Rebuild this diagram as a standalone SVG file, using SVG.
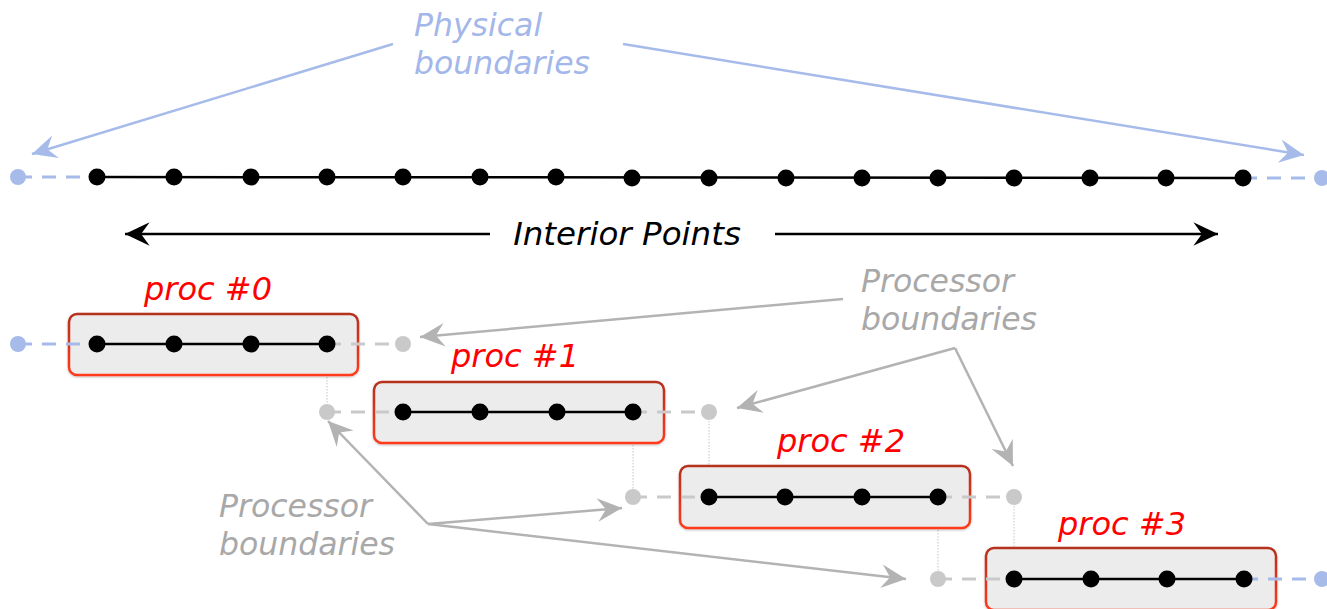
<svg xmlns="http://www.w3.org/2000/svg" width="1327" height="609" viewBox="0 0 1327 609">
  <style>
    text { font-family: "DejaVu Sans", Verdana, sans-serif; font-style: italic; font-size: 31.5px; }
    .phys { fill: #a3b7ea; }
    .interior { fill: #000; font-size: 32.5px; }
    .procb { fill: #a8a8a8; }
    .plabel { fill: #ff0000; font-size: 32px; }
    .box { fill: #ececec; stroke: url(#boxStroke); stroke-width: 2.5; }
    .solid { stroke: #000; stroke-width: 2.5; fill: none; }
    .dashBlue { stroke: #a6bbea; stroke-width: 3; stroke-dasharray: 14 10; fill: none; }
    .dashGray { stroke: #c9c9c9; stroke-width: 3; stroke-dasharray: 14 10; fill: none; }
    .vdot { stroke: #c4c4c4; stroke-width: 1; stroke-dasharray: 1.5 1.5; fill: none; }
    .pt { fill: #000; }
    .ptBlue { fill: #a6bbea; }
    .ptGray { fill: #c9c9c9; }
    .arrBlue { stroke: #a6bbea; stroke-width: 2.5; fill: none; marker-end: url(#headBlue); }
    .arrGray { stroke: #b3b3b3; stroke-width: 2.5; fill: none; }
    .arrBlack { stroke: #000; stroke-width: 2.5; fill: none; marker-end: url(#headBlack); }
  </style>
  <defs>
    <linearGradient id="boxStroke" x1="0" y1="0" x2="0" y2="1">
      <stop offset="0" stop-color="#b5301f"/>
      <stop offset="1" stop-color="#ff3a1c"/>
    </linearGradient>
    <marker id="headBlue" markerUnits="userSpaceOnUse" markerWidth="30" markerHeight="30" viewBox="-24 -12 28 24" refX="0" refY="0" orient="auto">
      <path d="M0,0 L-23,-11 L-15,0 L-23,11 Z" fill="#a6bbea"/>
    </marker>
    <marker id="headGray" markerUnits="userSpaceOnUse" markerWidth="30" markerHeight="30" viewBox="-24 -12 28 24" refX="0" refY="0" orient="auto">
      <path d="M0,0 L-23,-11 L-15,0 L-23,11 Z" fill="#b3b3b3"/>
    </marker>
    <marker id="headBlack" markerUnits="userSpaceOnUse" markerWidth="30" markerHeight="30" viewBox="-24 -12 28 24" refX="0" refY="0" orient="auto">
      <path d="M0,0 L-23,-11 L-15,0 L-23,11 Z" fill="#000"/>
    </marker>
    <filter id="soft" x="-5%" y="-10%" width="110%" height="130%">
      <feDropShadow dx="0" dy="1" stdDeviation="1" flood-color="#000" flood-opacity="0.25"/>
    </filter>
  </defs>

  <!-- global grid with physical boundary points -->
  <g id="global-grid">
    <line class="dashBlue" x1="18" y1="177" x2="97" y2="177"/>
    <line class="dashBlue" x1="1243" y1="178" x2="1322" y2="178"/>
    <line class="solid" x1="97" y1="177" x2="1243" y2="178"/>
    <circle class="ptBlue" cx="18" cy="177" r="8"/>
    <circle class="ptBlue" cx="1322" cy="178" r="8"/>
    <circle class="pt" cx="97" cy="177" r="8.5"/>
    <circle class="pt" cx="174" cy="177" r="8.5"/>
    <circle class="pt" cx="251" cy="177" r="8.5"/>
    <circle class="pt" cx="327" cy="177" r="8.5"/>
    <circle class="pt" cx="403" cy="177" r="8.5"/>
    <circle class="pt" cx="480" cy="177" r="8.5"/>
    <circle class="pt" cx="556" cy="177" r="8.5"/>
    <circle class="pt" cx="632" cy="178" r="8.5"/>
    <circle class="pt" cx="709" cy="178" r="8.5"/>
    <circle class="pt" cx="786" cy="178" r="8.5"/>
    <circle class="pt" cx="862" cy="178" r="8.5"/>
    <circle class="pt" cx="938" cy="178" r="8.5"/>
    <circle class="pt" cx="1014" cy="178" r="8.5"/>
    <circle class="pt" cx="1090" cy="178" r="8.5"/>
    <circle class="pt" cx="1166" cy="178" r="8.5"/>
    <circle class="pt" cx="1243" cy="178" r="8.5"/>
  </g>

  <g id="label-physical">
    <text class="phys" x="414" y="36">Physical</text>
    <text class="phys" x="414" y="74">boundaries</text>
  </g>

  <g id="label-interior">
    <text class="interior" x="627" y="245" text-anchor="middle">Interior Points</text>
  </g>

  <!-- ghost-point links between neighbouring partitions -->
  <g id="halo-links">
    <line class="vdot" x1="327" y1="344" x2="327" y2="412"/>
    <line class="vdot" x1="633" y1="412" x2="633" y2="497"/>
    <line class="vdot" x1="709" y1="412" x2="709" y2="497"/>
    <line class="vdot" x1="938" y1="497" x2="938" y2="579"/>
    <line class="vdot" x1="1014" y1="497" x2="1014" y2="579"/>
  </g>

  <g id="proc0">
    <rect class="box" filter="url(#soft)" x="69" y="314" width="289" height="61" rx="8"/>
    <text class="plabel" x="208" y="300" text-anchor="middle">proc #0</text>
    <line class="dashBlue" x1="18" y1="344" x2="97" y2="344"/>
    <line class="dashGray" x1="327" y1="344" x2="403" y2="344"/>
    <line class="solid" x1="97" y1="344" x2="327" y2="344"/>
    <circle class="ptBlue" cx="18" cy="344" r="8"/>
    <circle class="ptGray" cx="403" cy="344" r="8"/>
    <circle class="pt" cx="97" cy="344" r="8.5"/>
    <circle class="pt" cx="174" cy="344" r="8.5"/>
    <circle class="pt" cx="251" cy="344" r="8.5"/>
    <circle class="pt" cx="327" cy="344" r="8.5"/>
  </g>

  <g id="proc1">
    <rect class="box" filter="url(#soft)" x="374" y="382" width="290" height="61" rx="8"/>
    <text class="plabel" x="515" y="367" text-anchor="middle">proc #1</text>
    <line class="dashGray" x1="327" y1="412" x2="403" y2="412"/>
    <line class="dashGray" x1="633" y1="412" x2="709" y2="412"/>
    <line class="solid" x1="403" y1="412" x2="633" y2="412"/>
    <circle class="ptGray" cx="327" cy="412" r="8"/>
    <circle class="ptGray" cx="709" cy="412" r="8"/>
    <circle class="pt" cx="403" cy="412" r="8.5"/>
    <circle class="pt" cx="480" cy="412" r="8.5"/>
    <circle class="pt" cx="557" cy="412" r="8.5"/>
    <circle class="pt" cx="633" cy="412" r="8.5"/>
  </g>

  <g id="proc2">
    <rect class="box" filter="url(#soft)" x="680" y="466" width="290" height="62" rx="8"/>
    <text class="plabel" x="841" y="452" text-anchor="middle">proc #2</text>
    <line class="dashGray" x1="633" y1="497" x2="709" y2="497"/>
    <line class="dashGray" x1="938" y1="497" x2="1014" y2="497"/>
    <line class="solid" x1="709" y1="497" x2="938" y2="497"/>
    <circle class="ptGray" cx="633" cy="497" r="8"/>
    <circle class="ptGray" cx="1014" cy="497" r="8"/>
    <circle class="pt" cx="709" cy="497" r="8.5"/>
    <circle class="pt" cx="785" cy="497" r="8.5"/>
    <circle class="pt" cx="862" cy="497" r="8.5"/>
    <circle class="pt" cx="938" cy="497" r="8.5"/>
  </g>

  <g id="proc3">
    <rect class="box" filter="url(#soft)" x="986" y="548" width="290" height="62" rx="8"/>
    <text class="plabel" x="1122" y="535" text-anchor="middle">proc #3</text>
    <line class="dashGray" x1="938" y1="579" x2="1014" y2="579"/>
    <line class="dashBlue" x1="1244" y1="579" x2="1322" y2="579"/>
    <line class="solid" x1="1014" y1="579" x2="1244" y2="579"/>
    <circle class="ptGray" cx="938" cy="579" r="8"/>
    <circle class="ptBlue" cx="1322" cy="579" r="8"/>
    <circle class="pt" cx="1014" cy="579" r="8.5"/>
    <circle class="pt" cx="1091" cy="579" r="8.5"/>
    <circle class="pt" cx="1167" cy="579" r="8.5"/>
    <circle class="pt" cx="1244" cy="579" r="8.5"/>
  </g>

  <g id="label-proc-bounds-upper">
    <text class="procb" x="861" y="292">Processor</text>
    <text class="procb" x="861" y="330">boundaries</text>
  </g>

  <g id="label-proc-bounds-lower">
    <text class="procb" x="219" y="517">Processor</text>
    <text class="procb" x="219" y="555">boundaries</text>
  </g>

  <g id="connectors">
    <line class="arrBlue" x1="393" y1="44" x2="32" y2="154"/>
    <line class="arrBlue" x1="623" y1="44" x2="1304" y2="155"/>
    <line class="arrBlack" x1="490" y1="234" x2="125" y2="234"/>
    <line class="arrBlack" x1="775" y1="234" x2="1218" y2="234"/>
    <line class="arrGray" marker-end="url(#headGray)" x1="843" y1="299" x2="420" y2="337"/>
    <polyline class="arrGray" marker-end="url(#headGray)" points="955,348 737,408"/>
    <line class="arrGray" marker-end="url(#headGray)" x1="955" y1="348" x2="1013" y2="466"/>
    <line class="arrGray" marker-end="url(#headGray)" x1="428" y1="524" x2="328" y2="421"/>
    <line class="arrGray" marker-end="url(#headGray)" x1="428" y1="524" x2="622" y2="508"/>
    <line class="arrGray" marker-end="url(#headGray)" x1="428" y1="524" x2="906" y2="579"/>
  </g>
</svg>
